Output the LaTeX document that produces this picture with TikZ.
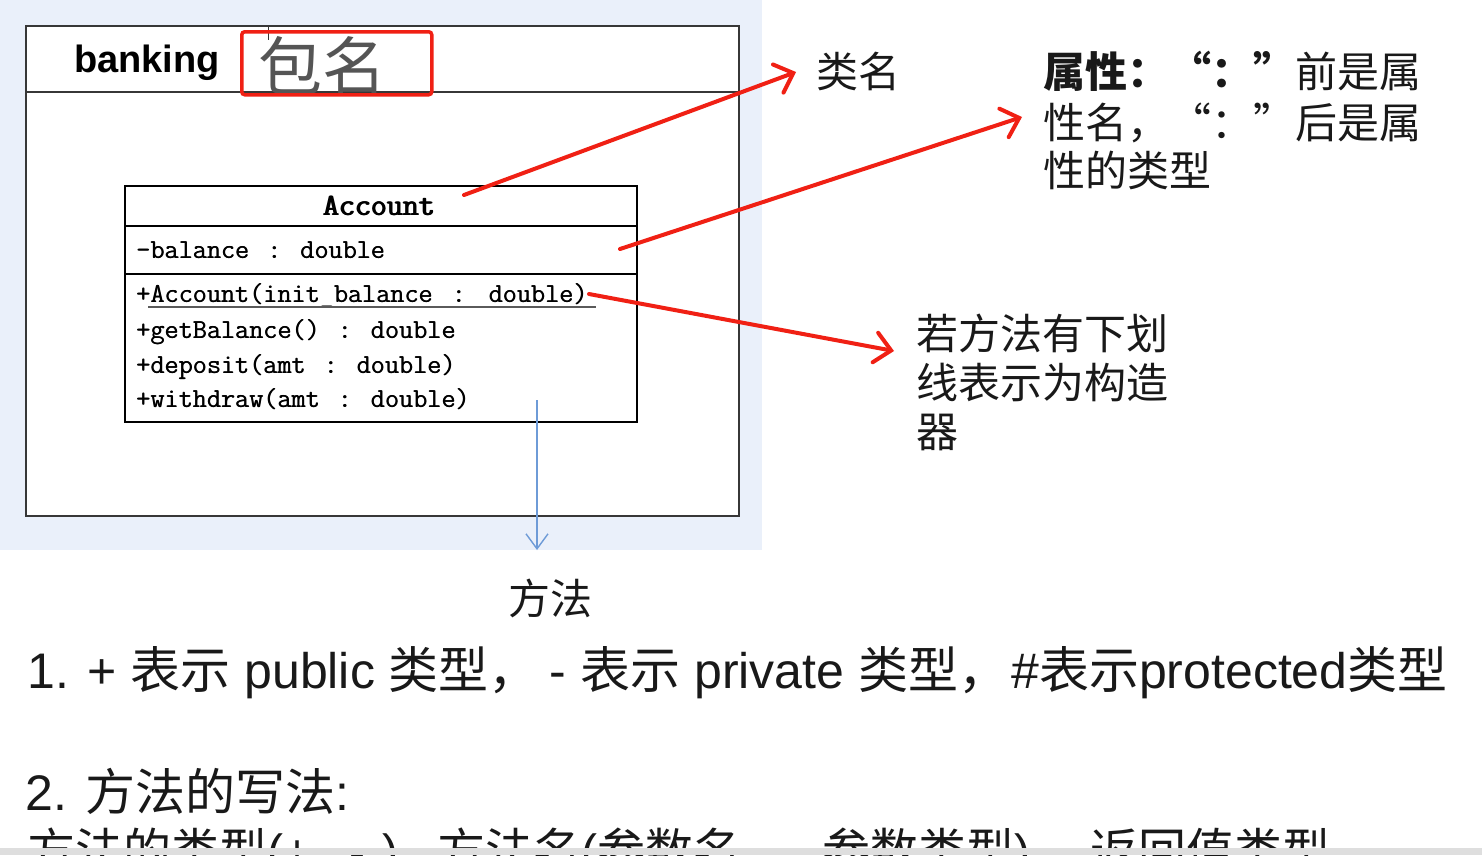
\documentclass[tikz,border=0pt]{standalone}
\usepackage{fontspec}
\usetikzlibrary{arrows.meta}
\setmainfont{Liberation Sans}
\newfontfamily\cjk{Noto Sans CJK SC}
\newfontfamily\umlmono{Latin Modern Mono}

\definecolor{paneblue}{RGB}{234,240,250}
\definecolor{framegray}{RGB}{55,55,55}
\definecolor{markred}{RGB}{240,32,20}
\definecolor{linkblue}{RGB}{110,155,215}
\definecolor{ink}{RGB}{25,25,25}
\definecolor{tagtext}{RGB}{85,85,85}
\definecolor{stripgray}{RGB}{222,222,222}
\definecolor{ulgray}{RGB}{90,90,90}

% gap, colon, gap between a member name and its type
\newcommand\umlsep[2]{\hspace{#1}:\hspace{#2}}
% full-width slots for the curly quotes
\newcommand\openq{\makebox[1em][r]{“}}
\newcommand\closeq{\makebox[1em][l]{”}}
% thicken thin typewriter strokes by overprinting with a small shift
\newcommand\firm[1]{\rlap{#1}\hspace{0.5pt}#1}
\newcommand\heavy[1]{\rlap{#1}\hspace{0.7pt}\rlap{#1}\hspace{0.7pt}#1}

\tikzset{
  txt/.style={inner sep=0pt, anchor=base west, text=ink},
  note/.style={txt, font=\cjk\fontsize{42}{48}\selectfont},
  big/.style={txt, font=\fontsize{50}{56}\selectfont},
  foot/.style={txt, font=\fontsize{48}{54}\selectfont},
  member/.style={txt, text=black, font=\umlmono\fontsize{27.4}{30}\selectfont},
  frame/.style={draw=framegray, line width=2pt, fill=white, inner sep=0pt, anchor=north west},
  classbox/.style={draw=black, line width=2pt, fill=white, inner sep=0pt, anchor=north west},
  callout/.style={draw=markred, line width=4pt, line cap=round,
    -{Straight Barb[length=16pt,width=30pt,line cap=round]}},
  pointer/.style={draw=linkblue, line width=1.4pt,
    -{Straight Barb[length=15pt,width=22pt]}},
}

\begin{document}
\begin{tikzpicture}[x=1pt,y=-1pt]
  \useasboundingbox (0,0) rectangle (1482,855);
  \fill[white] (0,0) rectangle (1482,855);
  \fill[paneblue] (0,0) rectangle (762,550);

  % package frame with its header band
  \node[frame, minimum width=713pt, minimum height=490pt] (pkg) at (25,25) {};
  \draw[framegray, line width=1.6pt] (25,92) -- (738,92);
  \draw[framegray, line width=1pt] (268,25) -- (268,40);
  \node[txt, font=\bfseries\fontsize{38}{40}\selectfont, text=black] (pkgname) at (74,72) {banking};
  \node[txt, font=\cjk\fontsize{64}{70}\selectfont, text=tagtext] (pkgtag) at (258,90) {包名};
  \node[draw=markred, line width=3.5pt, rounded corners=3pt, inner sep=0pt,
        minimum width=190pt, minimum height=63pt, anchor=north west] (tagbox) at (240,30) {};

  % class Account
  \node[classbox, minimum width=512pt, minimum height=236pt] (cls) at (124,185) {};
  \draw[black, line width=1.6pt] (124,226) -- (636,226);
  \draw[black, line width=1.6pt] (124,274) -- (636,274);
  \node[inner sep=0pt, anchor=base, text=black,
        font=\umlmono\fontsize{31}{34}\selectfont] (clsname) at (379,215) {\heavy{Account}};
  \node[member] (attr) at (136,258) {\firm{-balance\umlsep{18pt}{19pt}double}};
  \node[member] (ctor) at (136,302) {\firm{+Account(init\_balance\umlsep{19pt}{23pt}double)}};
  \draw[ulgray, line width=2pt] (148,306.5) -- (596,306.5);
  \node[member] (getbal) at (136,338) {\firm{+getBalance()\umlsep{18pt}{19pt}double}};
  \node[member] (deposit) at (136,373) {\firm{+deposit(amt\umlsep{18pt}{19pt}double)}};
  \node[member] (withdraw) at (136,407) {\firm{+withdraw(amt\umlsep{18pt}{19pt}double)}};

  % explanations
  \node[note] (lblclass) at (816,87) {类名};
  \node[note] (lblattr1) at (1043,87) {\bfseries 属性：\openq：\closeq{}\mdseries 前是属};
  \node[note] (lblattr2) at (1043,138) {性名，\openq：\closeq{}后是属};
  \node[note] (lblattr3) at (1043,186) {性的类型};
  \node[note] (lblctor1) at (916,349) {若方法有下划};
  \node[note] (lblctor2) at (916,398) {线表示为构造};
  \node[note] (lblctor3) at (916,447) {器};
  \node[note] (lblops) at (508,614) {方法};

  % arrows
  \coordinate (nameTail) at (464,195);
  \coordinate (nameTip)  at (796,72);
  \coordinate (attrTail) at (620,249);
  \coordinate (attrTip)  at (1022,117);
  \coordinate (ctorTail) at (589,294);
  \coordinate (ctorTip)  at (894,351);
  \coordinate (opsTail)  at (537,400);
  \coordinate (opsTip)   at (537,550);
  \draw[callout] (nameTail) -- (nameTip);
  \draw[callout] (attrTail) -- (attrTip);
  \draw[callout] (ctorTail) -- (ctorTip);
  \draw[pointer] (opsTail) -- (opsTip);

  % notes below
  \node[big] (rule1) at (27,688) {1. + {\cjk 表示} public {\cjk 类型，}\hspace{11pt}- {\cjk 表示} private {\cjk 类型，}\hspace{3pt}\#{\cjk 表示}protected{\cjk 类型}};
  \node[big] (rule2) at (25,810) {2. {\cjk 方法的写法}:};
  \node[foot] (rule3) at (27,868) {{\cjk 方法的类型}(+,\hspace{25pt}-\hspace{17pt})\hspace{39pt}{\cjk 方法名}({\cjk 参数名}\hspace{81pt}{\cjk 参数类型})\hspace{60pt}{\cjk 返回值类型}};

  \fill[stripgray] (0,848) rectangle (1482,855);
\end{tikzpicture}
\end{document}
